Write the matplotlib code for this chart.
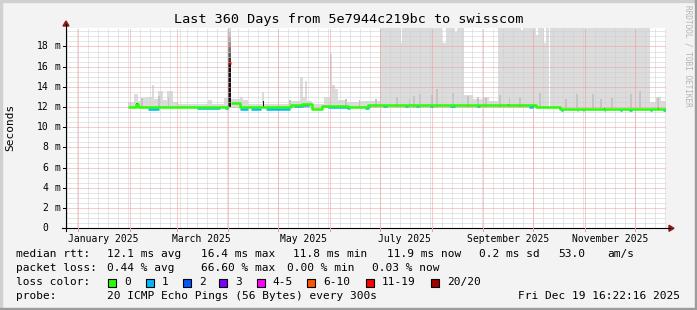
import matplotlib
matplotlib.use("Agg")
import matplotlib.pyplot as plt
import matplotlib.transforms as mtransforms
from matplotlib.patches import Rectangle, Polygon
from matplotlib.lines import Line2D
import pandas as pd

W, H = 697, 310
mono = "DejaVu Sans Mono"

# time axis: days since graph start
start = pd.Timestamp("2024-12-24 16:22:16")
span_days = 360
y_top = 19.83

# median rtt (ms) as steps: segment i runs from med_day[i] to med_day[i+1]
med_day = [37.2, 42.0, 43.0, 67.0, 97.6, 98.8, 104.5, 135.1, 141.5, 147.7,
           153.8, 169.4, 181.4, 265.5, 281.7, 296.1, 359.8]
med_ms = [11.98, 12.35, 11.97, 12.05, 16.4, 12.45, 11.97, 12.2, 12.3, 11.83,
          12.15, 12.0, 12.2, 12.17, 12.03, 11.83]
med_loss = [0, 0, 0, 0, 6, 0, 0, 0, 0, 0, 0, 0, 0, 0, 0, 0]

# stretches where the median shows loss 1 (blue)
blue_from = [49.0, 78.7, 95.5, 104.5, 111.0, 120.0, 136.5, 157.0, 179.6, 190.4,
             203.6, 210.0, 218.6, 230.6, 246.8, 278.0, 297.0, 306.6, 310.0,
             322.8, 332.4, 338.0, 350.4, 358.2]
blue_to = [56.0, 92.5, 97.3, 109.0, 117.0, 134.5, 146.0, 170.5, 182.6, 192.8,
           205.4, 211.5, 220.4, 233.6, 248.6, 280.0, 298.0, 307.2, 311.0,
           323.4, 333.6, 339.5, 351.6, 359.8]

# light smoke: (from day, to day, top ms)
smoke_from = [37.2, 40.5, 43.0, 45.0, 48.0, 51.5, 53.0, 55.0, 58.0, 60.5, 64.0, 67.0,
              85.0, 87.5, 95.0, 98.8, 104.5, 106.0, 109.0, 117.5, 118.8, 135.0,
              140.5, 142.3, 143.2, 144.4, 147.7, 155.0, 158.3, 159.8, 161.6, 163.0,
              168.0, 177.0, 188.6, 200.8, 201.8, 225.6, 228.0, 233.6, 234.8, 239.0,
              244.0, 250.0, 254.0, 258.9, 273.2, 274.2, 281.7, 282.9, 286.5, 287.7,
              290.4, 350.2, 353.7, 356.8]
smoke_to = [40.5, 43.0, 45.0, 48.0, 51.5, 53.0, 55.0, 58.0, 60.5, 64.0, 67.0, 85.0,
            87.5, 95.0, 97.5, 104.5, 106.0, 109.0, 117.5, 118.8, 135.0, 140.5,
            142.3, 143.2, 144.4, 147.7, 155.0, 158.3, 159.8, 161.6, 163.0, 168.0,
            177.0, 188.6, 200.8, 201.8, 225.6, 228.0, 233.6, 234.8, 239.0, 244.0,
            250.0, 254.0, 258.9, 273.2, 274.2, 281.7, 282.9, 286.5, 287.7, 289.8,
            350.2, 353.7, 356.8, 359.8]
smoke_top = [12.5, 13.3, 12.6, 12.9, 13.0, 14.2, 12.8, 13.6, 12.7, 13.6, 12.5, 12.35,
             12.7, 12.35, 12.9, 12.8, 13.0, 12.7, 12.3, 13.5, 12.35, 12.6,
             15.0, 13.0, 14.6, 12.6, 12.3, 13.0, 17.3, 14.2, 13.8, 12.7,
             12.5, 12.6, 19.83, 18.3, 19.83, 18.3, 19.83, 19.4, 19.83, 13.2,
             12.8, 13.0, 12.6, 19.83, 19.6, 19.83, 19.1, 19.83, 18.3, 19.83,
             19.83, 12.5, 13.0, 12.6]

# denser smoke bars near the median: (day, top ms)
inner_day = [45.5, 55.8, 61.5, 134.5, 168.0, 176.0, 186.0, 198.6, 206.0, 208.8,
             212.4, 219.6, 222.5, 232.2, 241.2, 247.2, 252.0, 260.4, 266.0, 272.4,
             284.4, 300.0, 306.6, 316.2, 321.0, 327.6, 339.0, 344.4, 355.2]
inner_top = [12.9, 13.1, 13.0, 12.7, 12.8, 12.7, 12.8, 13.0, 12.8, 13.1,
             13.3, 13.2, 13.8, 13.4, 13.1, 13.0, 12.9, 13.2, 12.9, 13.0,
             13.4, 12.8, 13.3, 13.3, 12.8, 12.9, 13.3, 13.6, 12.9]

# near-black smoke marks: (day, low ms, high ms)
dark_day = [42.6, 118.3, 265.3, 280.5, 296.0, 323.0, 355.4]
dark_lo = [12.0, 11.9, 12.1, 12.0, 11.85, 11.8, 11.8]
dark_hi = [12.45, 12.6, 12.35, 12.25, 12.05, 11.95, 11.95]

# spike of late March: stacked shades from median up to the top
spike_from, spike_to = 97.4, 98.8
spike_lo = [12.0, 16.4, 16.9, 17.4, 17.9, 18.4, 18.9, 19.4]
spike_hi = [16.4, 16.9, 17.4, 17.9, 18.4, 18.9, 19.4, 19.83]
spike_shade = ["#111111", "#3a3a3a", "#5a5a5a", "#787878", "#969696", "#b0b0b0",
               "#c6c6c6", "#d8d8d8"]

loss_labels = ["0", "1", "2", "3", "4-5", "6-10", "11-19", "20/20"]
loss_colors = ["#26ff00", "#00b8ff", "#0059ff", "#7e00ff", "#ff00ff", "#ff5500",
               "#ff0000", "#a10000"]

label_months = ["January 2025", "March 2025", "May 2025", "July 2025",
                "September 2025", "November 2025"]


def fx(x):
    return x / W


def fy(y):
    return 1 - y / H


def day_of(ts):
    return (pd.Timestamp(ts) - start) / pd.Timedelta(days=1)


fig = plt.figure(figsize=(W / 100, H / 100), dpi=100, facecolor="#f3f3f3")
ax = fig.add_axes([fx(66), fy(228.3), 600 / W, 200.3 / H])
ax.set_facecolor("white")
ax.set_xlim(0, span_days)
ax.set_ylim(0, y_top)
for s in ax.spines.values():
    s.set_visible(False)
ax.set_yticks([])

# grid: minor every 6 days from each month start, major at month start
dot = (0, (1, 1))
month_starts = pd.date_range("2025-01-01", "2025-12-01", freq="MS")
minor_days = []
for m in pd.date_range("2024-12-01", "2025-12-01", freq="MS"):
    for k in range(1, 6):
        minor_days.append(day_of(m + pd.Timedelta(days=6 * k)))
for d in minor_days:
    if 0 < d < span_days:
        ax.axvline(d, color="#cfcfcf", lw=0.72, ls=dot, zorder=2)
for k in range(1, 40):
    if k % 4:
        ax.axhline(k * 0.5, color="#cfcfcf", lw=0.72, ls=dot, zorder=2)
for m in month_starts:
    ax.axvline(day_of(m), color="#f09a9a", lw=0.72, ls=dot, zorder=2.1)
for v in range(2, 20, 2):
    ax.axhline(v, color="#f09a9a", lw=0.72, ls=dot, zorder=2.1)

# smoke
for a, b, t in zip(smoke_from, smoke_to, smoke_top):
    ax.bar(a, t - 11.9, width=b - a, bottom=11.9, align="edge",
           color="#dcdcdc", lw=0, zorder=1)
for d, t in zip(inner_day, inner_top):
    ax.bar(d, t - 11.9, width=0.9, bottom=11.9, color="#c4c4c4", lw=0, zorder=1.1)
for lo, hi, c in zip(spike_lo, spike_hi, spike_shade):
    ax.bar(spike_from, hi - lo, width=spike_to - spike_from, bottom=lo,
           align="edge", color=c, lw=0, zorder=1.2)
for d, lo, hi in zip(dark_day, dark_lo, dark_hi):
    ax.bar(d, hi - lo, width=0.7, bottom=lo, color="#1a1a1a", lw=0, zorder=3.5)


# median line, one run per loss colour
def step_xy(edges, vals):
    xs, ys = [], []
    for i, v in enumerate(vals):
        xs += [edges[i], edges[i + 1]]
        ys += [v, v]
    return xs, ys


for a, b in zip(blue_from, blue_to):
    xs, ys = [], []
    for i, v in enumerate(med_ms):
        lo, hi = max(a, med_day[i]), min(b, med_day[i + 1])
        if lo < hi and med_loss[i] == 0:
            xs += [lo, hi]
            ys += [v - 0.12, v - 0.12]
    ax.plot(xs, ys, color=loss_colors[1], lw=1.8, solid_capstyle="butt", zorder=3)

i = 0
while i < len(med_ms):
    j = i
    while j + 1 < len(med_ms) and med_loss[j + 1] == med_loss[i]:
        j += 1
    xs, ys = step_xy(med_day[i:j + 2], med_ms[i:j + 1])
    ax.plot(xs, ys, color=loss_colors[med_loss[i]], lw=1.8,
            solid_capstyle="butt", zorder=4)
    i = j + 1

# x labels at mid-month
label_days = [day_of(pd.Timestamp(t)) + 15 for t in
              ["2025-01-01", "2025-03-01", "2025-05-01", "2025-07-01",
               "2025-09-01", "2025-11-01"]]
ax.set_xticks(label_days, label_months, fontsize=7, family=mono)
ax.tick_params(axis="x", length=0, pad=4)

# y labels
ytr = mtransforms.blended_transform_factory(fig.transFigure, ax.transData)
for v in range(0, 20, 2):
    fig.text(fx(48.6), v, str(v), transform=ytr, ha="right", va="center",
             fontsize=7, family=mono)
    if v:
        fig.text(fx(54.5), v, "m", transform=ytr, ha="left", va="center",
                 fontsize=7, family=mono)
    fig.add_artist(Line2D([fx(62.5), fx(66)], [v, v], transform=ytr,
                          color="black", lw=0.72))

# axes with arrows
fig.add_artist(Line2D([fx(66), fx(66)], [fy(231), fy(24)], color="black", lw=0.8))
fig.add_artist(Line2D([fx(62), fx(670)], [fy(228.3), fy(228.3)], color="black", lw=0.8))
for m in month_starts:
    xx = 66 + day_of(m) * 600 / span_days
    fig.add_artist(Line2D([fx(xx), fx(xx)], [fy(228.3), fy(231)], color="#f09a9a", lw=0.72))
fig.add_artist(Polygon([(fx(63), fy(26)), (fx(69), fy(26)), (fx(66), fy(21))],
                       closed=True, color="#8b1a1a", transform=fig.transFigure))
fig.add_artist(Polygon([(fx(669), fy(225.3)), (fx(669), fy(231.3)), (fx(674), fy(228.3))],
                       closed=True, color="#8b1a1a", transform=fig.transFigure))

# titles
fig.text(fx(349), fy(19), "Last 360 Days from 5e7944c219bc to swisscom",
         ha="center", va="center", fontsize=9.7, family=mono)
fig.text(fx(10), fy(127), "Seconds", rotation=90, ha="center", va="center",
         fontsize=8, family=mono)
fig.text(fx(688), fy(5), "RRDTOOL / TOBI OETIKER", rotation=270, ha="center",
         va="top", fontsize=5.6, family=mono, color="#b4b4b4")

# legend rows
rows = [
    (254, [(16, "median rtt:"), (107.3, "12.1 ms avg"), (200.7, "16.4 ms max"),
           (293.3, "11.8 ms min"), (386.7, "11.9 ms now"), (479.3, "0.2 ms sd"),
           (558.3, "53.0"), (607.3, "am/s")]),
    (268, [(16, "packet loss:"), (107.3, "0.44 % avg"), (200.7, "66.60 % max"),
           (286.7, "0.00 % min"), (372.3, "0.03 % now")]),
    (282, [(16, "loss color:")]),
    (296, [(16, "probe:"), (107.3, "20 ICMP Echo Pings (56 Bytes) every 300s")]),
]
for y, items in rows:
    for x, s in items:
        fig.text(fx(x), fy(y), s, ha="left", va="center", fontsize=8, family=mono)
fig.text(fx(680), fy(296), "Fri Dec 19 16:22:16 2025", ha="right", va="center",
         fontsize=8, family=mono)

box_x = [108.3, 145.7, 182.7, 219.3, 256.7, 307.3, 365.7, 430.7]
for x, lab, c in zip(box_x, loss_labels, loss_colors):
    fig.patches.append(Rectangle((fx(x), fy(286.5)), 8 / W, 8 / H, facecolor=c,
                                 edgecolor="black", lw=0.8, transform=fig.transFigure))
    fig.text(fx(x + 16), fy(282), lab, ha="left", va="center", fontsize=8, family=mono)

# frame shading
fig.patches.append(Rectangle((0, fy(2)), 1, 2 / H, color="#d0d0d0", transform=fig.transFigure))
fig.patches.append(Rectangle((0, 0), 2 / W, 1, color="#d0d0d0", transform=fig.transFigure))
fig.patches.append(Rectangle((0, 0), 1, 2 / H, color="#9c9c9c", transform=fig.transFigure))
fig.patches.append(Rectangle((fx(695), 0), 2 / W, 1, color="#9c9c9c", transform=fig.transFigure))

fig.savefig("out.png", dpi=100, facecolor=fig.get_facecolor())
